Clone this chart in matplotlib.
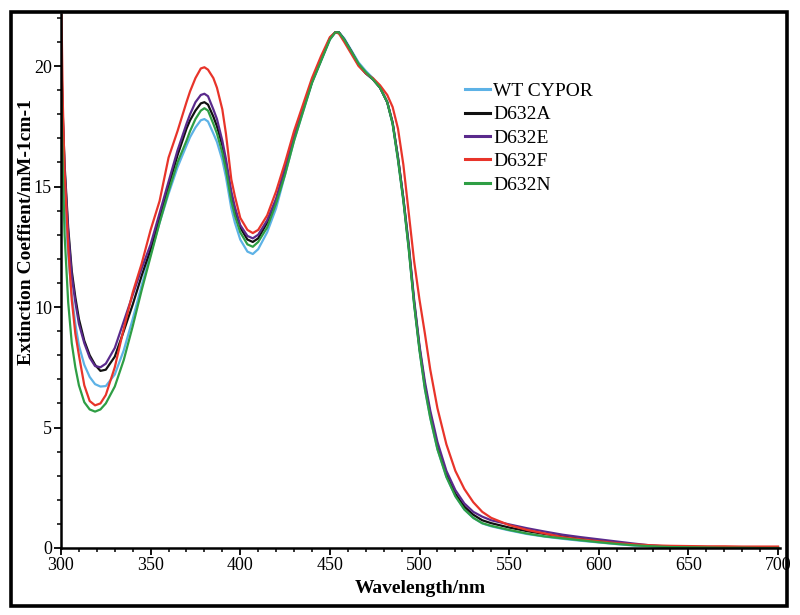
import matplotlib
matplotlib.use("Agg")
import matplotlib.pyplot as plt
from matplotlib.patches import Rectangle
from matplotlib.ticker import MultipleLocator

wavelength = [300, 301, 302, 304, 306, 308, 310, 313, 316, 319,
              322, 325, 330, 335, 340, 345, 350, 355, 360, 365,
              370, 372, 375, 378, 380, 382, 385, 387, 390, 392,
              395, 397, 400, 404,
              407, 410, 415, 420, 425, 430, 435, 440, 445, 450,
              453, 455, 458, 462, 466, 470, 474, 478, 482, 485,
              488, 491, 494, 497, 500, 503, 506, 510, 515, 520,
              525, 530, 535, 540, 550, 560, 570, 580, 590, 600,
              610, 620, 630, 640, 650, 660, 670, 680, 690, 700]

wt_cypor = [19.4, 16.5, 14.5, 12.2, 10.5, 9.3, 8.4, 7.6, 7.1, 6.8,
            6.7, 6.72, 7.2, 8.2, 9.5, 10.9, 12.2, 13.5, 14.7, 15.8,
            16.7, 17.05, 17.45, 17.75, 17.8, 17.7, 17.2, 16.85, 16.1, 15.4,
            14.1, 13.5, 12.8, 12.3,
            12.2, 12.4, 13.1, 14.1, 15.5, 16.9, 18.1, 19.3, 20.2, 21.1,
            21.4, 21.4, 21.15, 20.65, 20.15, 19.8, 19.5, 19.1, 18.5, 17.6,
            16.1, 14.4, 12.4, 10.1, 8.2, 6.6, 5.4, 4.1, 2.95, 2.15,
            1.6, 1.25, 1.02, 0.9, 0.73, 0.58, 0.47, 0.38, 0.3, 0.23,
            0.16, 0.1, 0.07, 0.04, 0.03, 0.02, 0.01, 0.01, 0.0, 0.0]

d632a = [20.8, 18.0, 15.9, 13.3, 11.5, 10.4, 9.5, 8.6, 8.0, 7.6,
         7.35, 7.4, 7.94, 9.0, 10.1, 11.3, 12.4, 13.7, 15.0, 16.3,
         17.4, 17.75, 18.15, 18.45, 18.5, 18.4, 17.9, 17.5, 16.7, 15.95,
         14.6, 14.0, 13.3, 12.8,
         12.7, 12.85, 13.5, 14.4, 15.7, 17.0, 18.2, 19.35, 20.25, 21.15,
         21.4, 21.4, 21.1, 20.6, 20.05, 19.7, 19.45, 19.1, 18.5, 17.65,
         16.2, 14.5, 12.5, 10.2, 8.3, 6.75, 5.55, 4.25, 3.05, 2.25,
         1.72, 1.38, 1.15, 1.03, 0.85, 0.7, 0.58, 0.48, 0.38, 0.3,
         0.22, 0.14, 0.09, 0.06, 0.05, 0.04, 0.03, 0.02, 0.02, 0.01]

d632e = [20.5, 17.8, 15.7, 13.1, 11.3, 10.2, 9.3, 8.5, 7.9, 7.55,
         7.5, 7.65, 8.3, 9.4, 10.5, 11.6, 12.6, 13.9, 15.2, 16.5,
         17.6, 18.0, 18.5, 18.8, 18.85, 18.75, 18.2, 17.8, 16.9, 16.15,
         14.8, 14.15, 13.4, 12.95,
         12.85, 13.0, 13.6, 14.5, 15.8, 17.1, 18.2, 19.35, 20.25, 21.15,
         21.4, 21.4, 21.1, 20.6, 20.05, 19.7, 19.45, 19.1, 18.5, 17.65,
         16.2, 14.5, 12.6, 10.3, 8.4, 6.9, 5.7, 4.4, 3.2, 2.4,
         1.85, 1.5, 1.3, 1.15, 0.98, 0.82, 0.68, 0.55, 0.45, 0.36,
         0.27, 0.18, 0.1, 0.06, 0.04, 0.03, 0.02, 0.02, 0.01, 0.01]

d632f = [23.5, 18.5, 15.6, 12.5, 10.3, 8.9, 8.0, 6.75, 6.1, 5.92,
         6.0, 6.35, 7.5, 9.1, 10.6, 11.8, 13.2, 14.4, 16.2, 17.3,
         18.5, 18.95, 19.5, 19.9, 19.95, 19.85, 19.5, 19.1, 18.2, 17.2,
         15.3, 14.6, 13.7, 13.2,
         13.07, 13.2, 13.8, 14.8, 16.0, 17.3, 18.4, 19.5, 20.4, 21.2,
         21.4, 21.35, 21.0, 20.5, 20.0, 19.7, 19.5, 19.2, 18.8, 18.3,
         17.4, 15.9, 13.9, 11.9, 10.3, 8.9, 7.4, 5.8, 4.3, 3.2,
         2.45, 1.9, 1.5, 1.25, 0.95, 0.75, 0.6, 0.45, 0.36, 0.28,
         0.2, 0.15, 0.11, 0.09, 0.08, 0.07, 0.07, 0.06, 0.06, 0.06]

d632n = [19.0, 15.6, 13.0, 10.2, 8.5, 7.5, 6.75, 6.05, 5.75, 5.66,
         5.75, 6.0, 6.7, 7.8, 9.2, 10.7, 12.1, 13.5, 14.8, 16.0,
         16.9, 17.3, 17.8, 18.15, 18.25, 18.15, 17.6, 17.2, 16.4, 15.7,
         14.4, 13.8, 13.1, 12.6,
         12.5, 12.7, 13.3, 14.3, 15.5, 16.9, 18.1, 19.3, 20.2, 21.1,
         21.4, 21.4, 21.1, 20.6, 20.1, 19.75, 19.45, 19.1, 18.5, 17.6,
         16.1, 14.4, 12.4, 10.1, 8.2, 6.6, 5.4, 4.1, 2.95, 2.15,
         1.6, 1.25, 1.03, 0.92, 0.75, 0.6, 0.48, 0.4, 0.32, 0.24,
         0.17, 0.11, 0.07, 0.04, 0.03, 0.02, 0.01, 0.01, 0.0, 0.0]

series_labels = ["WT CYPOR", "D632A", "D632E", "D632F", "D632N"]
series_values = [wt_cypor, d632a, d632e, d632f, d632n]
series_colors = ["#5db2e6", "#111111", "#5a2a8c", "#e8342a", "#2e9e44"]

x_ticks = [300, 350, 400, 450, 500, 550, 600, 650, 700]
y_ticks = [0, 5, 10, 15, 20]

plt.rcParams['font.family'] = ['Liberation Serif', 'DejaVu Serif']

fig = plt.figure(figsize=(8, 6.15), dpi=100)
ax = fig.add_axes([61/800, 1 - 548/615, (780-61)/800, (548-14)/615])

for lab, vals, col in zip(series_labels, series_values, series_colors):
    ax.plot(wavelength, vals, color=col, lw=1.6, label=lab,
            solid_joinstyle='round')

ax.set_xlim(300, 701.1)
ax.set_ylim(0, 22.16)
ax.set_xticks(x_ticks)
ax.set_yticks(y_ticks)
ax.xaxis.set_minor_locator(MultipleLocator(10))
ax.yaxis.set_minor_locator(MultipleLocator(1))
ax.tick_params(which='major', direction='out', length=5, width=1.3,
               labelsize=13, pad=1.5)
ax.tick_params(which='minor', direction='out', length=3, width=1.1)

for s in ['top', 'right']:
    ax.spines[s].set_visible(False)
for s in ['left', 'bottom']:
    ax.spines[s].set_linewidth(1.8)

ax.set_xlabel("Wavelength/nm", fontsize=14, fontweight='bold', labelpad=4)
ax.set_ylabel("Extinction Coeffient/mM-1cm-1", fontsize=14, fontweight='bold')
ax.yaxis.set_label_coords(-0.036, 0.592)

leg = ax.legend(loc='upper left', bbox_to_anchor=(0.562, 0.872), frameon=False,
                fontsize=14, handlelength=1.3, handletextpad=0.15,
                labelspacing=0.3, borderaxespad=0, borderpad=0)
for line in leg.get_lines():
    line.set_linewidth(2.2)

fig.patches.append(Rectangle((11/800, 1 - 606/615), (787-11)/800, (606-12)/615,
                             transform=fig.transFigure, fill=False,
                             edgecolor='black', lw=2.6, zorder=10))

fig.savefig("out.png", dpi=100)
